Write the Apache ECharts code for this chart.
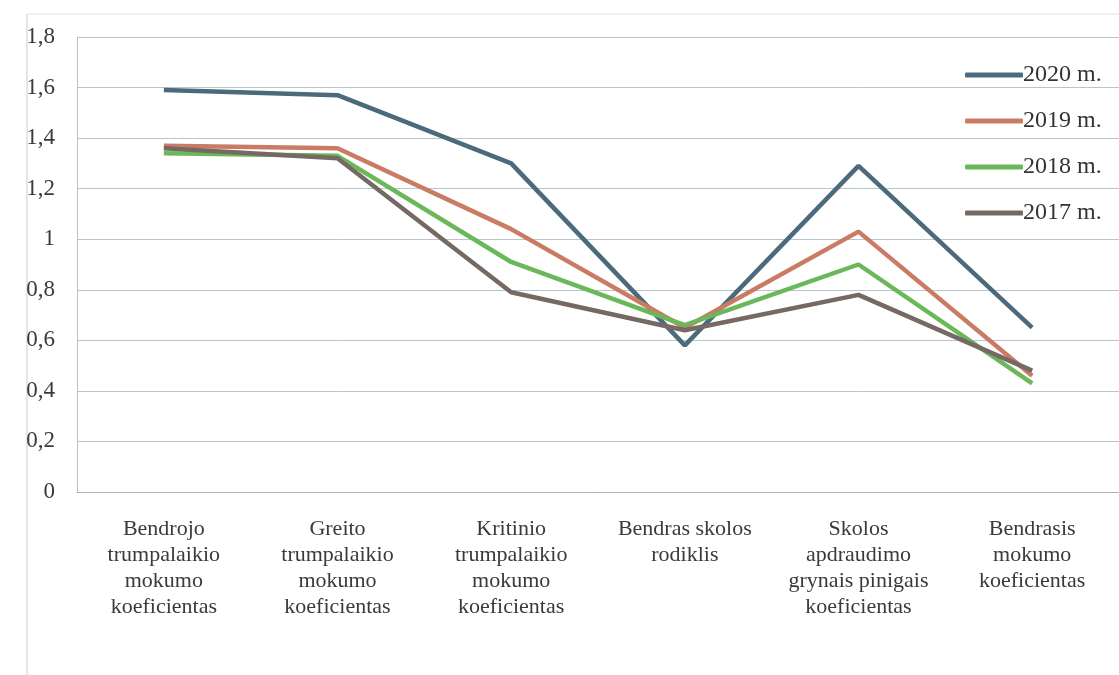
<!DOCTYPE html>
<html>
<head>
<meta charset="utf-8">
<script src="https://cdn.jsdelivr.net/npm/echarts@6/dist/echarts.min.js"></script>
<style>
  html, body { margin: 0; padding: 0; background: #fff; }
  #chart { width: 1119px; height: 675px; }
</style>
</head>
<body>
<div id="chart"></div>
<script>
const categories = [
  'Bendrojo\ntrumpalaikio\nmokumo\nkoeficientas',
  'Greito\ntrumpalaikio\nmokumo\nkoeficientas',
  'Kritinio\ntrumpalaikio\nmokumo\nkoeficientas',
  'Bendras skolos\nrodiklis',
  'Skolos\napdraudimo\ngrynais pinigais\nkoeficientas',
  'Bendrasis\nmokumo\nkoeficientas'
]
const v2020 = [1.59, 1.57, 1.30, 0.58, 1.29, 0.65]
const v2019 = [1.37, 1.36, 1.04, 0.65, 1.03, 0.46]
const v2018 = [1.34, 1.33, 0.91, 0.66, 0.90, 0.43]
const v2017 = [1.36, 1.32, 0.79, 0.64, 0.78, 0.48]

const font = '"Liberation Serif", "DejaVu Serif", serif'

const chart = echarts.init(document.getElementById('chart'))

const mkLine = (name, data, color) => ({
  name,
  type: 'line',
  data,
  symbol: 'none',
  lineStyle: { color, width: 4.5 },
  itemStyle: { color }
})

chart.setOption({
  animation: false,
  textStyle: { fontFamily: font },
  graphic: [
    { type: 'line', shape: { x1: 27, y1: 14, x2: 27, y2: 675 }, style: { stroke: '#c8cdd0', lineWidth: 1 } },
    { type: 'line', shape: { x1: 27, y1: 14, x2: 1119, y2: 14 }, style: { stroke: '#dde2e4', lineWidth: 1 } }
  ],
  grid: { left: 77, top: 37, width: 1053, height: 455 },
  legend: {
    orient: 'vertical',
    left: 960,
    top: 58,
    icon: 'roundRect',
    itemWidth: 58,
    itemHeight: 5,
    itemGap: 22,
    textStyle: { fontFamily: font, fontSize: 24, color: '#333', padding: [0, 0, 0, -5] },
    data: ['2020 m.', '2019 m.', '2018 m.', '2017 m.']
  },
  xAxis: {
    type: 'category',
    data: categories,
    boundaryGap: true,
    axisLine: { lineStyle: { color: '#a9b3b8', width: 1 } },
    axisTick: { show: false },
    axisLabel: {
      interval: 0,
      fontFamily: font,
      fontSize: 22,
      lineHeight: 26,
      color: '#3a3a3a',
      margin: 24
    }
  },
  yAxis: {
    type: 'value',
    min: 0,
    max: 1.8,
    interval: 0.2,
    axisLine: { show: true, lineStyle: { color: '#b8c2c8', width: 1 } },
    axisTick: { show: false },
    splitLine: { lineStyle: { color: '#b9c5cc', width: 1 } },
    axisLabel: {
      fontFamily: font,
      fontSize: 23,
      color: '#3a3a3a',
      margin: 22,
      formatter: v => String(+v.toFixed(1)).replace('.', ',')
    }
  },
  series: [
    mkLine('2020 m.', v2020, '#4b6b7c'),
    mkLine('2019 m.', v2019, '#c97b63'),
    mkLine('2018 m.', v2018, '#6bb85a'),
    mkLine('2017 m.', v2017, '#766862')
  ]
})
</script>
</body>
</html>
